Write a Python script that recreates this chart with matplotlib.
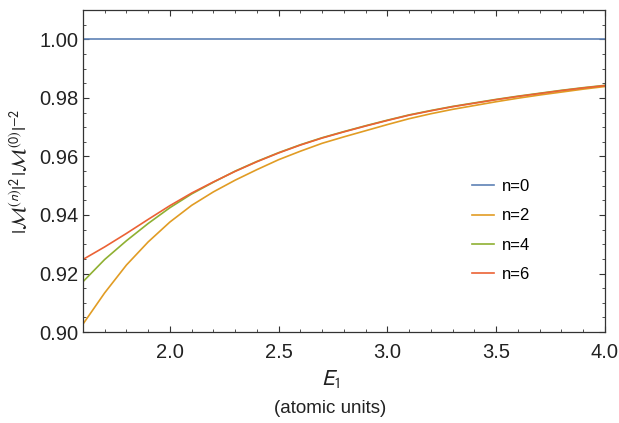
import numpy as np
import matplotlib
matplotlib.use("Agg")
import matplotlib.pyplot as plt
from matplotlib.ticker import MultipleLocator

plt.rcParams['font.family'] = ['Liberation Sans', 'DejaVu Sans']
plt.rcParams['mathtext.fontset'] = 'stixsans'

# E1 grid (atomic units)
e1 = [1.6, 1.7, 1.8, 1.9, 2.0, 2.1, 2.2, 2.3, 2.4, 2.5, 2.6, 2.7, 2.8,
      2.9, 3.0, 3.1, 3.2, 3.3, 3.4, 3.5, 3.6, 3.7, 3.8, 3.9, 4.0]

ratio_n0 = [1.0] * len(e1)
ratio_n2 = [0.9027, 0.9134, 0.9229, 0.9308, 0.9376, 0.9433, 0.9479, 0.9519,
            0.9555, 0.9589, 0.9618, 0.9645, 0.9667, 0.9688, 0.9709, 0.9729,
            0.9746, 0.9761, 0.9774, 0.9787, 0.9799, 0.9810, 0.9820, 0.9830,
            0.9839]
ratio_n4 = [0.9172, 0.9248, 0.9312, 0.9371, 0.9425, 0.9472, 0.9512, 0.9550,
            0.9583, 0.9613, 0.9640, 0.9664, 0.9685, 0.9705, 0.9724, 0.9742,
            0.9757, 0.9771, 0.9783, 0.9795, 0.9806, 0.9816, 0.9826, 0.9835,
            0.9843]
ratio_n6 = [0.9248, 0.9291, 0.9337, 0.9385, 0.9432, 0.9475, 0.9513, 0.9549,
            0.9582, 0.9612, 0.9639, 0.9663, 0.9684, 0.9704, 0.9723, 0.9741,
            0.9756, 0.9770, 0.9782, 0.9794, 0.9805, 0.9815, 0.9825, 0.9834,
            0.9842]

labels = ['n=0', 'n=2', 'n=4', 'n=6']
colors = ['#5E81B5', '#E19C24', '#8FB032', '#EB6235']

fig = plt.figure(figsize=(6.19, 4.23), dpi=100)
ax = fig.add_axes([0.134, 0.215, 0.843, 0.761])

for ys, lab, c in zip([ratio_n0, ratio_n2, ratio_n4, ratio_n6], labels, colors):
    ax.plot(e1, ys, color=c, lw=1.2, label=lab)

ax.set_xlim(1.6, 4.0)
ax.set_ylim(0.90, 1.01)
ax.xaxis.set_major_locator(MultipleLocator(0.5))
ax.xaxis.set_minor_locator(MultipleLocator(0.1))
ax.yaxis.set_major_locator(MultipleLocator(0.02))
ax.yaxis.set_minor_locator(MultipleLocator(0.005))
ax.xaxis.set_major_formatter(plt.FormatStrFormatter('%.1f'))
ax.yaxis.set_major_formatter(plt.FormatStrFormatter('%.2f'))

ax.tick_params(which='both', direction='in', top=True, right=True,
               color='#333333', labelsize=14.5, labelcolor='#222222')
ax.tick_params(which='major', length=4.5, width=0.8)
ax.tick_params(which='minor', length=2.5, width=0.6)
ax.tick_params(axis='x', pad=8)
for s in ax.spines.values():
    s.set_color('#333333')
    s.set_linewidth(0.9)

ax.set_ylabel(r'$|\mathcal{M}^{(n)}|^{2}\,|\mathcal{M}^{(0)}|^{-2}$',
              fontsize=14.5, color='#222222', labelpad=6)
fig.text(0.534, 0.105, r'$E_1$', fontsize=16, ha='center', va='center',
         color='#222222')
fig.text(0.534, 0.035, '(atomic units)', fontsize=13.5, ha='center',
         va='center', color='#222222')

ax.legend(loc='center left', bbox_to_anchor=(0.717, 0.315), frameon=False,
          fontsize=12, handlelength=1.3, handletextpad=0.5,
          labelspacing=0.86)

fig.savefig('out.png', dpi=100)
